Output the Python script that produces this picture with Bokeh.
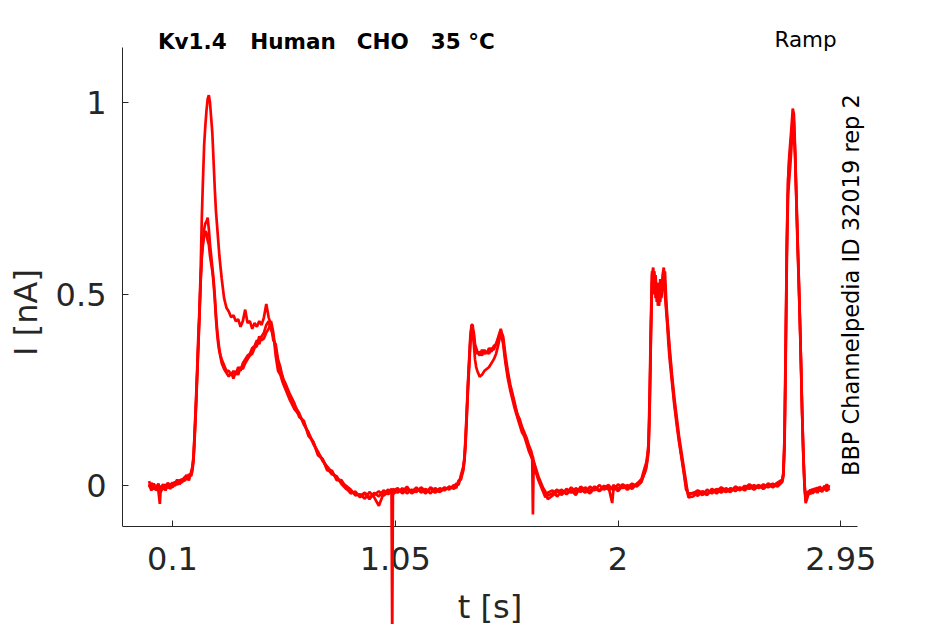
import math
from bokeh.plotting import figure
from bokeh.models import Range1d, FixedTicker, Label
from bokeh.embed import file_html
from bokeh.resources import INLINE

# ---------------- data ----------------
# time [s] per segment, and three overlapping current sweeps [nA]
t_seg0 = [0.00, 0.01, 0.02, 0.03, 0.04, 0.046, 0.05, 0.06, 0.07, 0.08, 0.09, 0.10,
          0.11, 0.12, 0.13, 0.14, 0.15, 0.16, 0.17, 0.18]
a_seg0 = [0.012, -0.008, 0.006, -0.012, -0.004, -0.020, 0.000, -0.010, 0.004, -0.006,
          0.002, 0.008, 0.000, 0.012, 0.006, 0.018, 0.012, 0.024, 0.020, 0.032]
b_seg0 = [-0.004, 0.008, -0.010, 0.002, -0.014, -0.047, -0.006, 0.004, -0.012, 0.002,
          -0.008, 0.004, 0.010, 0.002, 0.016, 0.008, 0.022, 0.016, 0.030, 0.026]
c_seg0 = [0.004, -0.012, 0.000, -0.006, 0.006, -0.010, -0.016, -0.002, -0.006, 0.008,
          0.000, -0.004, 0.006, 0.016, 0.004, 0.012, 0.020, 0.028, 0.014, 0.038]

t_seg1 = [0.185, 0.19, 0.195, 0.20, 0.205, 0.21, 0.215, 0.22, 0.225, 0.23, 0.235, 0.24,
          0.245, 0.25, 0.255, 0.26, 0.265, 0.27, 0.275, 0.28, 0.285, 0.29, 0.295, 0.30,
          0.305, 0.31,
          0.32, 0.33, 0.34, 0.35, 0.36, 0.37, 0.38, 0.39, 0.40, 0.41, 0.42, 0.43, 0.44,
          0.45, 0.46, 0.47, 0.48, 0.49, 0.50, 0.51, 0.52, 0.53, 0.54, 0.55, 0.56, 0.57,
          0.58, 0.59, 0.60,
          0.62, 0.64, 0.66, 0.68, 0.70, 0.72, 0.74, 0.76, 0.78, 0.80, 0.82, 0.84, 0.86, 0.88]
a_seg1 = [0.045, 0.075, 0.15, 0.22, 0.30, 0.39, 0.46, 0.56, 0.70, 0.80, 0.89, 0.94,
          0.98, 1.01, 1.02, 1.00, 0.96, 0.92, 0.85, 0.78, 0.72, 0.68, 0.64, 0.60,
          0.57, 0.54,
          0.49, 0.465, 0.455, 0.44, 0.445, 0.43, 0.435, 0.415, 0.43, 0.46, 0.425, 0.43, 0.41,
          0.425, 0.415, 0.43, 0.42, 0.44, 0.475, 0.44, 0.42, 0.38, 0.37, 0.33, 0.31, 0.28,
          0.27, 0.255, 0.24,
          0.215, 0.18, 0.17, 0.13, 0.115, 0.08, 0.07, 0.04, 0.04, 0.015, 0.015, -0.005, -0.02, -0.015]
b_seg1 = [0.04, 0.07, 0.13, 0.20, 0.28, 0.36, 0.44, 0.53, 0.60, 0.64, 0.67, 0.685,
          0.69, 0.70, 0.67, 0.63, 0.60, 0.57, 0.54, 0.50, 0.45, 0.41, 0.38, 0.355,
          0.34, 0.33,
          0.315, 0.30, 0.30, 0.29, 0.30, 0.29, 0.31, 0.30, 0.32, 0.33, 0.34, 0.345, 0.36,
          0.365, 0.38, 0.37, 0.39, 0.40, 0.42, 0.43, 0.41, 0.39, 0.36, 0.32, 0.30, 0.285,
          0.26, 0.25, 0.235,
          0.21, 0.19, 0.16, 0.14, 0.11, 0.09, 0.065, 0.05, 0.035, 0.02, 0.01, 0.00, -0.01, -0.025]
c_seg1 = [0.05, 0.08, 0.14, 0.21, 0.29, 0.37, 0.45, 0.54, 0.60, 0.63, 0.65, 0.665,
          0.66, 0.64, 0.63, 0.60, 0.58, 0.56, 0.53, 0.49, 0.44, 0.40, 0.37, 0.35,
          0.335, 0.32,
          0.305, 0.295, 0.285, 0.295, 0.28, 0.30, 0.29, 0.31, 0.305, 0.32, 0.33, 0.34, 0.345,
          0.36, 0.365, 0.39, 0.38, 0.385, 0.40, 0.41, 0.43, 0.40, 0.34, 0.30, 0.29, 0.27,
          0.255, 0.24, 0.225,
          0.20, 0.185, 0.165, 0.135, 0.115, 0.085, 0.07, 0.045, 0.03, 0.025, 0.005, -0.008, -0.015, -0.02]

# sweep b carries the artefact spike at 1.037 s that runs off below the axis
t_seg2 = [0.90, 0.92, 0.94, 0.96, 0.98, 1.00, 1.02, 1.034, 1.037, 1.04, 1.06, 1.08,
          1.10, 1.12, 1.14, 1.16, 1.18, 1.20, 1.22, 1.24, 1.26, 1.28, 1.30]
a_seg2 = [-0.030, -0.020, -0.035, -0.018, -0.028, -0.012, -0.022, -0.015, -0.020, -0.008,
          -0.018, -0.006, -0.020, -0.010, -0.016, -0.004, -0.014, -0.008, -0.018, -0.006,
          -0.012, -0.002, -0.008]
b_seg2 = [-0.022, -0.034, -0.016, -0.030, -0.052, -0.020, -0.010, -0.018, -0.40, -0.014,
          -0.006, -0.020, -0.010, -0.016, -0.004, -0.018, -0.008, -0.020, -0.006, -0.014,
          -0.004, -0.010, 0.002]
c_seg2 = [-0.026, -0.018, -0.030, -0.024, -0.014, -0.026, -0.016, -0.008, -0.012, -0.022,
          -0.012, -0.016, -0.002, -0.020, -0.012, -0.010, -0.020, -0.004, -0.012, -0.016,
          -0.008, -0.006, -0.004]

t_seg3 = [1.31, 1.32, 1.33, 1.34,
          1.345, 1.35, 1.355, 1.36, 1.365, 1.37, 1.375, 1.38, 1.385, 1.39, 1.395, 1.40,
          1.41, 1.42, 1.43, 1.44, 1.45, 1.46, 1.47, 1.48, 1.49, 1.50, 1.51, 1.52, 1.53,
          1.54, 1.55, 1.56, 1.57, 1.58, 1.59, 1.60, 1.61, 1.62, 1.63,
          1.634, 1.637, 1.640,
          1.65, 1.66, 1.67, 1.68, 1.69, 1.70]
a_seg3 = [0.000, 0.008, 0.022, 0.045,
          0.07, 0.12, 0.19, 0.26, 0.32, 0.38, 0.42, 0.42, 0.39, 0.36, 0.35, 0.345,
          0.35, 0.34, 0.355, 0.345, 0.36, 0.35, 0.365, 0.37, 0.39, 0.41, 0.38, 0.33, 0.29,
          0.26, 0.235, 0.21, 0.19, 0.17, 0.15, 0.135, 0.12, 0.10, 0.08,
          0.07, 0.065, 0.06,
          0.04, 0.02, 0.005, -0.01, -0.02, -0.025]
b_seg3 = [-0.006, 0.014, 0.016, 0.040,
          0.065, 0.11, 0.18, 0.25, 0.31, 0.37, 0.41, 0.40, 0.37, 0.33, 0.31, 0.30,
          0.285, 0.29, 0.30, 0.305, 0.31, 0.32, 0.33, 0.345, 0.37, 0.40, 0.37, 0.32, 0.28,
          0.25, 0.225, 0.20, 0.18, 0.16, 0.14, 0.13, 0.11, 0.09, 0.075,
          0.07, -0.075, 0.06,
          0.035, 0.015, 0.0, -0.015, -0.03, -0.018]
c_seg3 = [0.006, 0.002, 0.028, 0.050,
          0.075, 0.13, 0.20, 0.27, 0.33, 0.39, 0.415, 0.41, 0.40, 0.37, 0.36, 0.35,
          0.34, 0.355, 0.345, 0.35, 0.345, 0.36, 0.355, 0.37, 0.385, 0.405, 0.39, 0.34, 0.30,
          0.265, 0.24, 0.215, 0.185, 0.175, 0.155, 0.14, 0.125, 0.105, 0.09,
          0.08, 0.075, 0.065,
          0.045, 0.025, 0.01, -0.005, -0.015, -0.035]

t_seg4 = [1.72, 1.74, 1.76, 1.78, 1.80, 1.82, 1.84, 1.86, 1.88, 1.90, 1.92, 1.94, 1.96,
          1.975, 1.98, 2.00, 2.02, 2.04, 2.06, 2.08, 2.10]
a_seg4 = [-0.020, -0.010, -0.024, -0.008, -0.018, -0.006, -0.016, -0.004, -0.014, -0.002,
          -0.012, 0.000, -0.010, -0.006, 0.002, -0.008, 0.004, -0.004, 0.006, -0.002, 0.010]
b_seg4 = [-0.012, -0.028, -0.014, -0.020, -0.004, -0.016, -0.008, -0.018, -0.002, -0.012,
          0.002, -0.010, -0.004, -0.045, -0.012, 0.004, -0.006, 0.002, -0.008, 0.006, 0.014]
c_seg4 = [-0.026, -0.016, -0.010, -0.022, -0.012, -0.024, -0.002, -0.010, -0.020, -0.006,
          -0.014, -0.004, 0.002, -0.010, -0.002, -0.014, 0.000, -0.010, 0.000, 0.004, 0.018]

t_seg5 = [2.115, 2.12, 2.125, 2.13, 2.135, 2.14, 2.145, 2.15, 2.155, 2.16, 2.165, 2.17,
          2.175, 2.18, 2.185, 2.19, 2.195, 2.20, 2.205, 2.21, 2.215, 2.22,
          2.23, 2.24, 2.25, 2.26, 2.27, 2.28, 2.29, 2.30]
a_seg5 = [0.04, 0.05, 0.07, 0.10, 0.22, 0.40, 0.55, 0.57, 0.52, 0.54, 0.50, 0.53,
          0.47, 0.52, 0.50, 0.55, 0.57, 0.53, 0.47, 0.43, 0.39, 0.35,
          0.28, 0.22, 0.17, 0.12, 0.08, 0.04, 0.0, -0.025]
b_seg5 = [0.035, 0.045, 0.065, 0.09, 0.20, 0.38, 0.53, 0.55, 0.56, 0.49, 0.53, 0.47,
          0.51, 0.48, 0.54, 0.51, 0.53, 0.56, 0.49, 0.44, 0.40, 0.36,
          0.29, 0.23, 0.18, 0.13, 0.09, 0.05, 0.01, -0.03]
c_seg5 = [0.05, 0.06, 0.08, 0.11, 0.25, 0.43, 0.56, 0.53, 0.50, 0.55, 0.48, 0.52,
          0.49, 0.54, 0.49, 0.53, 0.55, 0.50, 0.46, 0.42, 0.37, 0.33,
          0.27, 0.21, 0.16, 0.115, 0.075, 0.035, -0.01, -0.02]

t_seg6 = [2.32, 2.34, 2.36, 2.38, 2.40, 2.42, 2.44, 2.46, 2.48, 2.50, 2.52, 2.54,
          2.56, 2.58, 2.60, 2.62, 2.64, 2.66, 2.68, 2.70]
a_seg6 = [-0.018, -0.026, -0.014, -0.022, -0.012, -0.020, -0.010, -0.016, -0.006, -0.014,
          -0.004, -0.012, -0.002, -0.010, 0.000, -0.008, 0.002, -0.004, 0.004, 0.012]
b_seg6 = [-0.028, -0.016, -0.024, -0.010, -0.020, -0.008, -0.018, -0.006, -0.014, -0.004,
          -0.012, 0.000, -0.008, 0.002, -0.006, 0.004, -0.004, 0.006, -0.002, 0.010]
c_seg6 = [-0.020, -0.012, -0.018, -0.024, -0.008, -0.014, -0.004, -0.012, -0.016, -0.002,
          -0.008, -0.006, 0.004, -0.004, 0.002, -0.006, 0.006, 0.000, 0.008, 0.016]

t_seg7 = [2.705, 2.71, 2.715, 2.72, 2.725, 2.73, 2.735, 2.74, 2.745, 2.75, 2.755, 2.76,
          2.765, 2.77, 2.775, 2.78, 2.785, 2.79, 2.795, 2.80]
a_seg7 = [0.03, 0.12, 0.36, 0.63, 0.79, 0.86, 0.90, 0.94, 0.985, 0.97, 0.88, 0.77,
          0.66, 0.56, 0.45, 0.33, 0.20, 0.09, 0.01, -0.04]
b_seg7 = [0.025, 0.10, 0.33, 0.60, 0.76, 0.80, 0.84, 0.89, 0.93, 0.92, 0.86, 0.75,
          0.64, 0.54, 0.44, 0.32, 0.19, 0.08, 0.00, -0.035]
c_seg7 = [0.035, 0.13, 0.38, 0.65, 0.80, 0.85, 0.88, 0.92, 0.96, 0.95, 0.87, 0.76,
          0.65, 0.55, 0.44, 0.32, 0.19, 0.085, 0.005, -0.045]

t_seg8 = [2.81, 2.82, 2.83, 2.84, 2.85, 2.86, 2.87, 2.88, 2.89, 2.90]
a_seg8 = [-0.020, -0.010, -0.018, -0.006, -0.014, -0.002, -0.012, 0.000, -0.008, -0.002]
b_seg8 = [-0.014, -0.022, -0.008, -0.016, -0.004, -0.014, -0.006, -0.010, 0.004, -0.012]
c_seg8 = [-0.026, -0.012, -0.020, -0.010, -0.018, -0.008, -0.016, -0.004, -0.014, 0.002]

xtick_vals = [0.1, 1.05, 2, 2.95]
xtick_labels = ["0.1", "1.05", "2", "2.95"]
ytick_vals = [0, 0.5, 1]
ytick_labels = ["0", "0.5", "1"]

title_words = ["Kv1.4", "Human", "CHO", "35 °C"]
protocol_text = "Ramp"
side_text = "BBP Channelpedia ID 32019 rep 2"

# ---------------- assemble sweeps ----------------
t = t_seg0 + t_seg1 + t_seg2 + t_seg3 + t_seg4 + t_seg5 + t_seg6 + t_seg7 + t_seg8
ia = a_seg0 + a_seg1 + a_seg2 + a_seg3 + a_seg4 + a_seg5 + a_seg6 + a_seg7 + a_seg8
ib = b_seg0 + b_seg1 + b_seg2 + b_seg3 + b_seg4 + b_seg5 + b_seg6 + b_seg7 + b_seg8
ic = c_seg0 + c_seg1 + c_seg2 + c_seg3 + c_seg4 + c_seg5 + c_seg6 + c_seg7 + c_seg8
n = min(len(t), len(ia), len(ib), len(ic))

FONT = "DejaVu Sans"
AX = "#262626"

# axes box of the reference (data units): x -0.113..3.02, y -0.107..1.144
X_AXIS_END = 3.02
Y_AXIS_LOW, Y_AXIS_HIGH = -0.107, 1.144

p = figure(width=945, height=624, output_backend="svg", toolbar_location=None,
           x_range=Range1d(-0.1132, 3.3964), y_range=Range1d(-0.3621, 1.2671),
           min_border_left=122, min_border_right=0, min_border_top=0, min_border_bottom=0)
p.background_fill_color = "white"
p.border_fill_color = "white"
p.outline_line_color = None
p.grid.visible = False

for ys in (ic, ib, ia):
    p.line(t[:n], ys[:n], line_color="#ff0000", line_width=2.7, level="overlay")

for ax in (p.xaxis[0], p.yaxis[0]):
    ax.axis_line_color = AX
    ax.axis_line_width = 1
    ax.major_tick_line_color = AX
    ax.major_tick_in = 6
    ax.major_tick_out = 0
    ax.minor_tick_line_color = None
    ax.major_label_text_font = FONT
    ax.major_label_text_font_size = "32px"
    ax.major_label_text_color = AX
    ax.axis_label_text_font = FONT
    ax.axis_label_text_font_size = "32px"
    ax.axis_label_text_font_style = "normal"
    ax.axis_label_text_color = AX

p.xaxis.fixed_location = Y_AXIS_LOW
p.xaxis.bounds = (-0.1132, X_AXIS_END)
p.yaxis.bounds = (Y_AXIS_LOW, Y_AXIS_HIGH)
p.xaxis.ticker = FixedTicker(ticks=xtick_vals)
p.xaxis.major_label_overrides = dict(zip(xtick_vals, xtick_labels))
p.yaxis.ticker = FixedTicker(ticks=ytick_vals)
p.yaxis.major_label_overrides = dict(zip(ytick_vals, ytick_labels))
p.xaxis.axis_label = "t [s]"
p.yaxis.axis_label = "I [nA]"
p.xaxis.major_label_standoff = 20
p.xaxis.axis_label_standoff = 15
p.yaxis.major_label_standoff = 16
p.yaxis.axis_label_standoff = 8

# title words (placed separately so the double spacing survives in SVG)
title_x = [0.0377, 0.4318, 0.8855, 1.2018]
for word, wx in zip(title_words, title_x):
    p.add_layout(Label(x=wx, y=1.161, text=word, text_font=FONT, text_font_style="bold",
                       text_font_size="21.5px", text_color="black", text_align="left",
                       text_baseline="alphabetic"))
p.add_layout(Label(x=2.667, y=1.164, text=protocol_text, text_font=FONT,
                   text_font_size="21.5px", text_color="black", text_align="left",
                   text_baseline="alphabetic"))
p.add_layout(Label(x=2.992, y=0.0256, text=side_text, text_font=FONT, angle=math.pi / 2,
                   text_font_size="22.5px", text_color="black", text_align="left",
                   text_baseline="alphabetic"))

open("out.html", "w").write(file_html(p, INLINE))
